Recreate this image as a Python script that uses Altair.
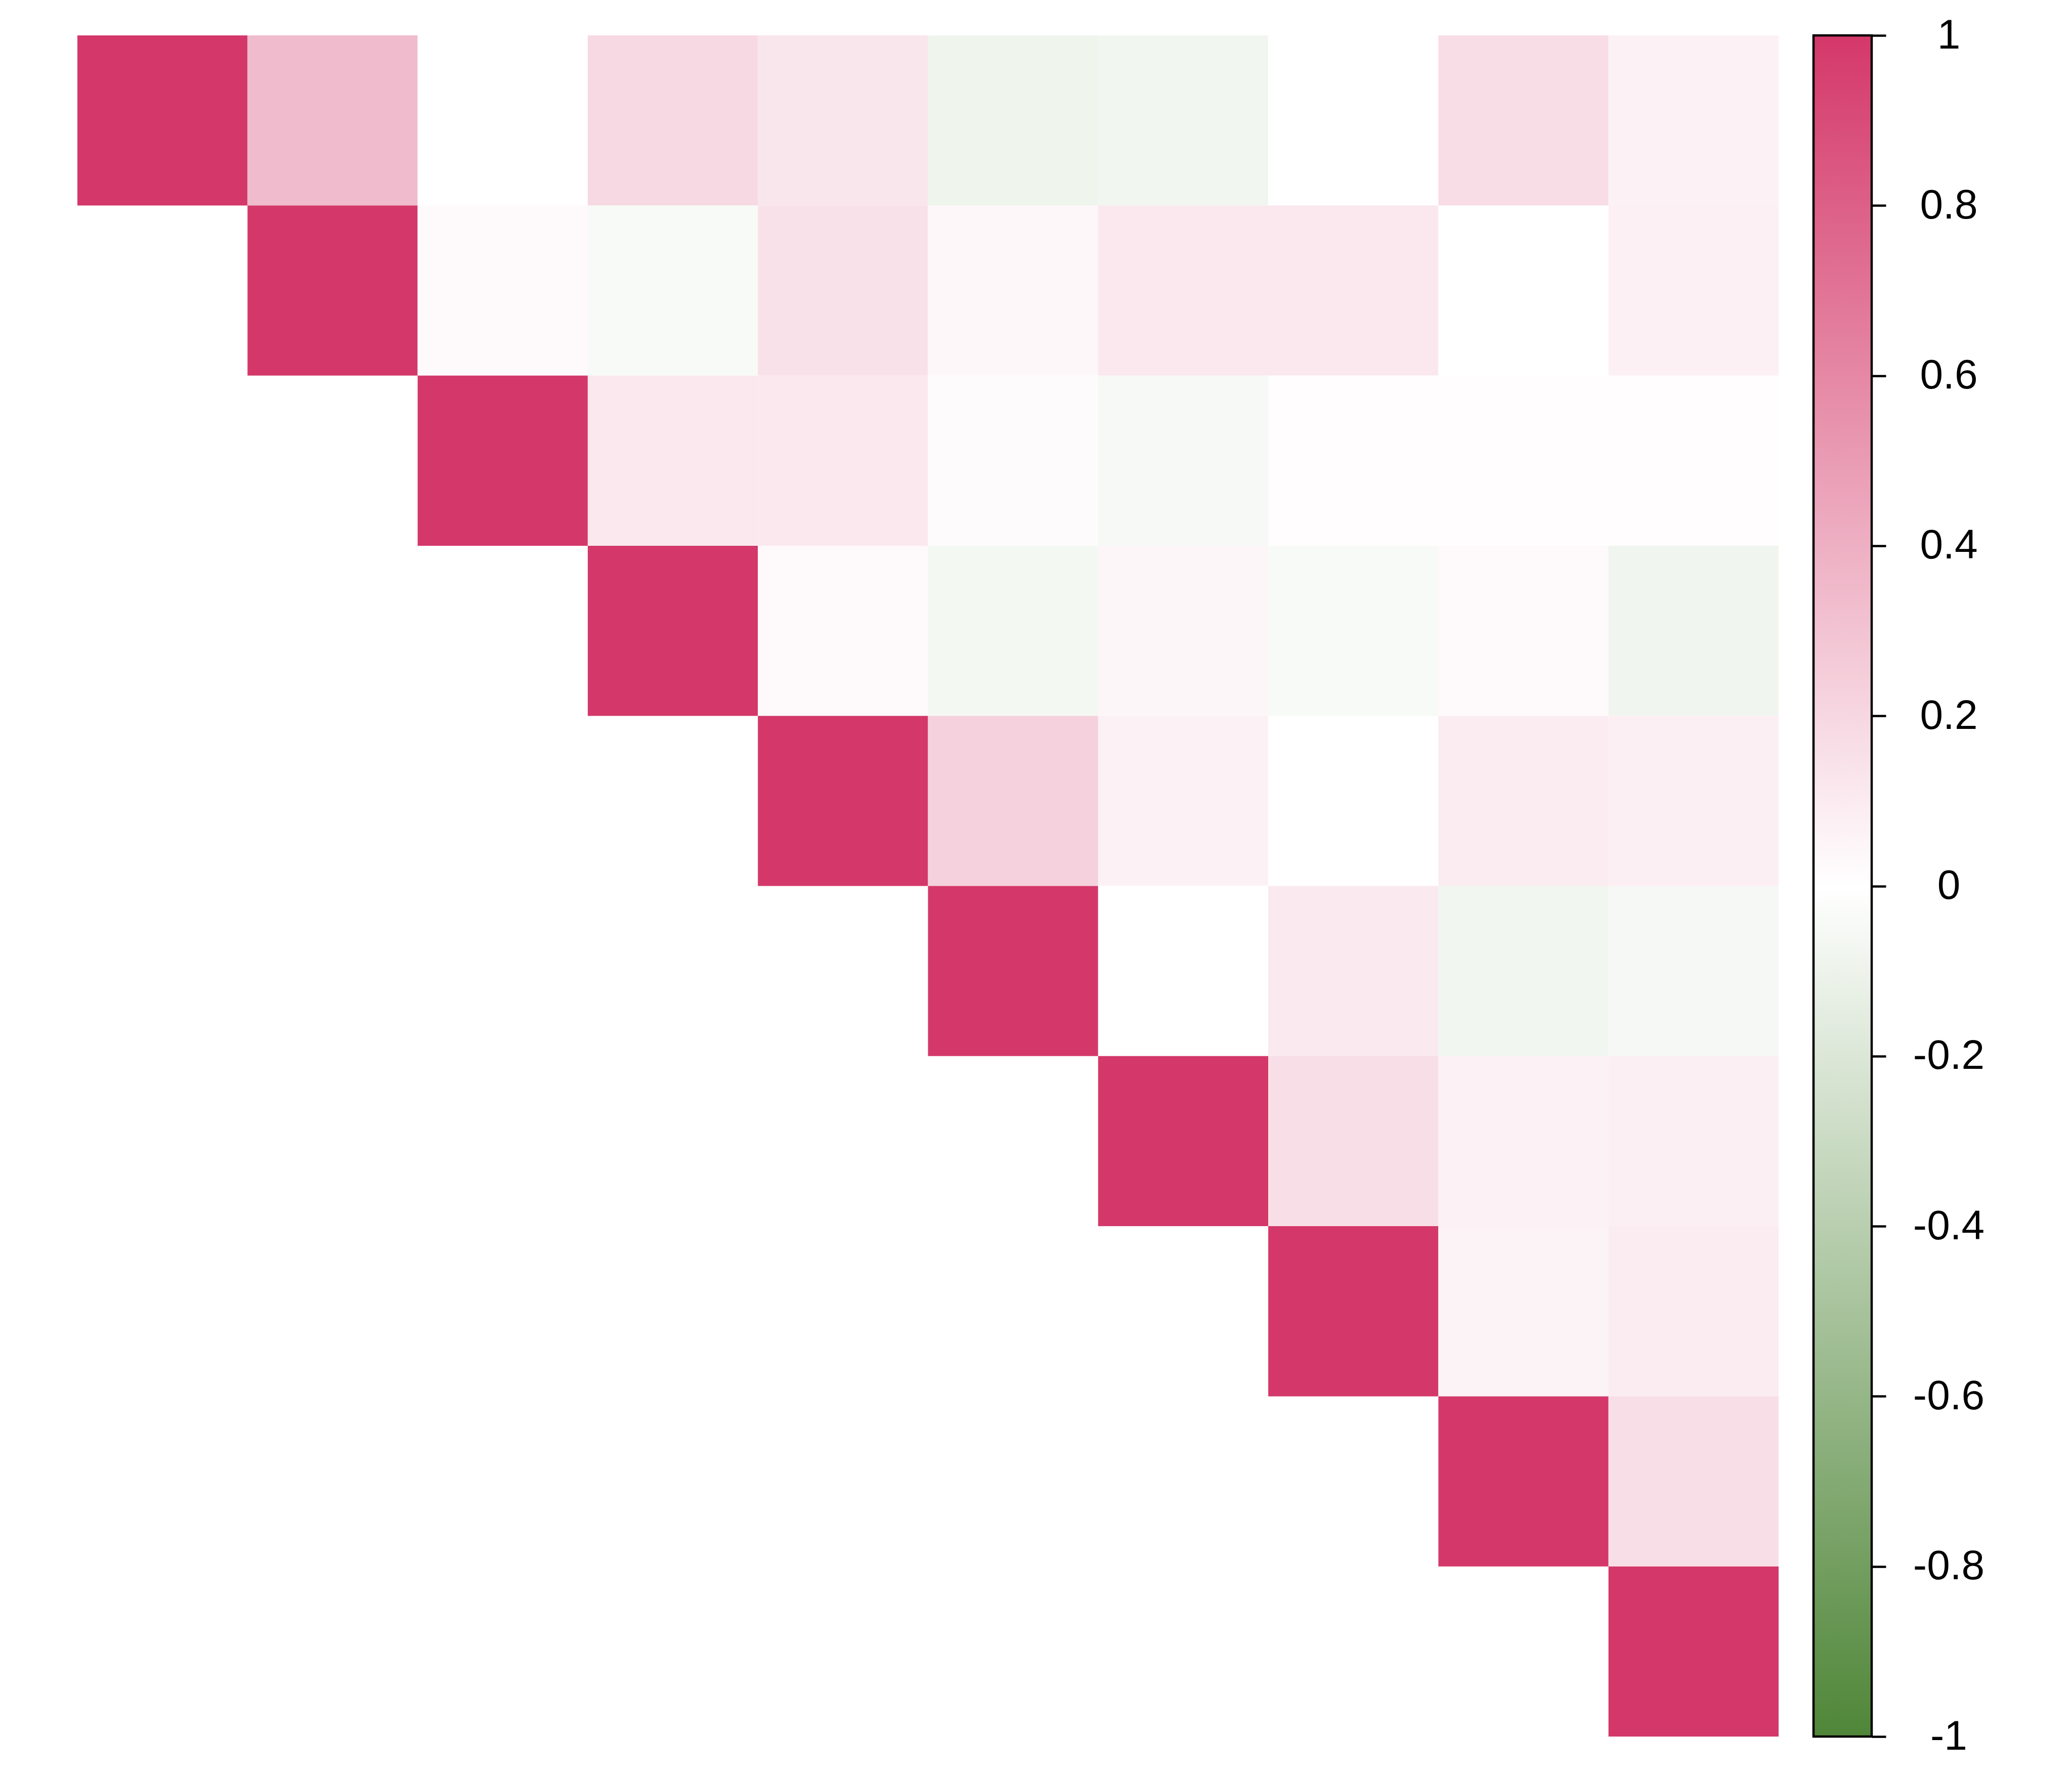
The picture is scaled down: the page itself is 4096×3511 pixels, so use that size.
import altair as alt
import pandas as pd

# ---- data -------------------------------------------------------------
variables = ["V1", "V2", "V3", "V4", "V5", "V6", "V7", "V8", "V9", "V10"]

# upper triangle, row by row: values for columns i+1 .. 9 (diagonal = 1)
row0 = [0.34, 0.0, 0.19, 0.13, -0.09, -0.075, 0.0, 0.17, 0.065]
row1 = [0.03, -0.045, 0.15, 0.04, 0.115, 0.115, 0.0, 0.075]
row2 = [0.115, 0.115, 0.02, -0.05, 0.01, 0.01, 0.01]
row3 = [0.03, -0.06, 0.045, -0.04, 0.03, -0.08]
row4 = [0.23, 0.07, 0.0, 0.095, 0.08]
row5 = [0.0, 0.11, -0.075, -0.055]
row6 = [0.165, 0.07, 0.08]
row7 = [0.06, 0.095]
row8 = [0.16]
row9 = []
upper_rows = [row0, row1, row2, row3, row4, row5, row6, row7, row8, row9]

legend_ticks = [1, 0.8, 0.6, 0.4, 0.2, 0, -0.2, -0.4, -0.6, -0.8, -1]
color_domain = [-1, 0, 1]
color_range = ["#4F8638", "#FFFFFF", "#D4386A"]

# ---- build table ------------------------------------------------------
records = []
for i, vals in enumerate(upper_rows):
    records.append({"row": variables[i], "col": variables[i], "r": 1.0})
    for k, v in enumerate(vals):
        records.append({"row": variables[i], "col": variables[i + 1 + k], "r": v})
df = pd.DataFrame(records)

cell = 336.3
n = len(variables)

heat = alt.Chart(df).mark_rect(strokeWidth=0).encode(
    x=alt.X("col:N", sort=variables, axis=None,
            scale=alt.Scale(paddingInner=0, paddingOuter=0)),
    y=alt.Y("row:N", sort=variables, axis=None,
            scale=alt.Scale(paddingInner=0, paddingOuter=0)),
    color=alt.Color("r:Q", legend=None,
                    scale=alt.Scale(domain=color_domain, range=color_range,
                                    interpolate="rgb")),
).properties(width=cell * n, height=cell * n,
             view=alt.ViewBackground(stroke="white", strokeWidth=0, fill="white"))

cb_df = pd.DataFrame({"lo": [min(color_domain)], "hi": [max(color_domain)]})
grad = alt.Gradient(
    gradient="linear",
    stops=[alt.GradientStop(color=color_range[0], offset=0),
           alt.GradientStop(color=color_range[1], offset=0.5),
           alt.GradientStop(color=color_range[2], offset=1)],
    x1=0, x2=0, y1=1, y2=0,
)

cb_w = 115
colorbar = alt.Chart(cb_df).mark_rect(fill=grad, stroke="black", strokeWidth=4.5).encode(
    y=alt.Y("lo:Q",
            scale=alt.Scale(domain=[min(color_domain), max(color_domain)], nice=False),
            axis=alt.Axis(orient="right", values=legend_ticks, title=None,
                          domain=False, grid=False,
                          tickSize=28, tickWidth=4.5, tickColor="black",
                          labelFontSize=82, labelColor="black",
                          labelAlign="center", labelBaseline="middle",
                          labelPadding=124, labelFlush=False,
                          labelOverlap=False,
                          labelExpr="'' + datum.value")),
    y2="hi:Q",
    x=alt.value(0),
    x2=alt.value(cb_w),
).properties(width=cb_w, height=cell * n,
             view=alt.ViewBackground(stroke="white", strokeWidth=0))

chart = alt.hconcat(heat, colorbar, spacing=65).properties(
    padding={"left": 153, "top": 29, "right": 20, "bottom": 20},
    background="white",
).configure_view(stroke="white", strokeWidth=0).configure(font="Liberation Sans")

chart.save("out.html", embed_options={"renderer": "svg", "actions": False})
